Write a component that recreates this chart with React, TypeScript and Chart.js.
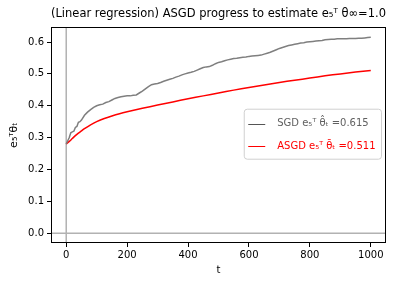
import { useEffect, useRef } from 'react';
import { Chart, registerables } from 'chart.js';

Chart.register(...registerables);

const TITLE = '(Linear regression) ASGD progress to estimate e₅ᵀ θ∞=1.0';
const X_LABEL = 't';
const Y_LABEL = 'e₅ᵀθₜ';
const SGD_LABEL = 'SGD e₅ᵀ θ̂ₜ =0.615';
const ASGD_LABEL = 'ASGD e₅ᵀ θ̄ₜ =0.511';

const X_TICKS = [0, 200, 400, 600, 800, 1000];
const Y_TICKS = [0.0, 0.1, 0.2, 0.3, 0.4, 0.5, 0.6];

const SGD_T = [
  0, 5, 10, 15, 20, 25, 30, 35, 40, 45, 50, 60, 70, 80, 90,
  100, 110, 120, 130, 140, 150, 160, 170, 180, 190,
  200, 210, 220, 230, 240, 250, 260, 270, 280, 290,
  300, 310, 320, 330, 340, 350, 360, 370, 380, 390,
  400, 410, 420, 430, 440, 450, 460, 470, 480, 490,
  500, 510, 520, 530, 540, 550, 560, 570, 580, 590,
  600, 610, 620, 630, 640, 650, 660, 670, 680, 690,
  700, 710, 720, 730, 740, 750, 760, 770, 780, 790,
  800, 810, 820, 830, 840, 850, 860, 870, 880, 890,
  900, 910, 920, 930, 940, 950, 960, 970, 980, 990,
  1000,
];
const SGD_VALUES = [
  0.280, 0.290, 0.300, 0.315, 0.318, 0.320, 0.332, 0.335, 0.348, 0.350, 0.355, 0.370, 0.380, 0.388, 0.395,
  0.400, 0.403, 0.405, 0.410, 0.413, 0.418, 0.423, 0.426, 0.428, 0.430,
  0.431, 0.431, 0.433, 0.434, 0.440, 0.446, 0.453, 0.460, 0.466, 0.468,
  0.470, 0.473, 0.477, 0.480, 0.483, 0.486, 0.490, 0.493, 0.497, 0.500,
  0.503, 0.505, 0.508, 0.512, 0.516, 0.520, 0.522, 0.523, 0.527, 0.532,
  0.536, 0.538, 0.541, 0.544, 0.546, 0.548, 0.549, 0.551, 0.552, 0.553,
  0.555, 0.556, 0.557, 0.558, 0.559, 0.562, 0.565, 0.568, 0.572, 0.576,
  0.580, 0.583, 0.586, 0.589, 0.591, 0.593, 0.595, 0.597, 0.598, 0.600,
  0.601, 0.602, 0.603, 0.604, 0.605, 0.607, 0.608, 0.609, 0.609, 0.610,
  0.610, 0.610, 0.610, 0.611, 0.611, 0.611, 0.612, 0.612, 0.613, 0.614,
  0.615,
];

const ASGD_T = [0, 10, 20, 30, 40, 50, 60, 80, 100, 125, 150, 175, 200, 250, 300, 350, 400, 450, 500, 550, 600, 650, 700, 750, 800, 850, 900, 950, 1000];
const ASGD_VALUES = [0.280, 0.288, 0.297, 0.306, 0.314, 0.321, 0.328, 0.340, 0.350, 0.360, 0.368, 0.375, 0.381, 0.392, 0.402, 0.412, 0.422, 0.431, 0.440, 0.449, 0.457, 0.465, 0.473, 0.480, 0.487, 0.494, 0.500, 0.506, 0.511];

const X_MIN = -50;
const X_MAX = 1050;
const Y_MIN = -0.031;
const Y_MAX = 0.646;

const FONT = 'DejaVu Sans';
const SGD_COLOR = '#7f7f7f';
const ASGD_COLOR = '#ff0000';
const REF_LINE_COLOR = '#b2b2b2';

const frame = {
  id: 'frame',
  beforeDatasetsDraw(chart: any) {
    const { ctx, chartArea, scales } = chart;
    const x0 = scales.x.getPixelForValue(0);
    const y0 = scales.y.getPixelForValue(0);
    ctx.save();
    ctx.strokeStyle = REF_LINE_COLOR;
    ctx.lineWidth = 1.5;
    ctx.beginPath();
    ctx.moveTo(x0, chartArea.top);
    ctx.lineTo(x0, chartArea.bottom);
    ctx.moveTo(chartArea.left, y0);
    ctx.lineTo(chartArea.right, y0);
    ctx.stroke();
    ctx.restore();
  },
  afterDraw(chart: any) {
    const { ctx, chartArea } = chart;
    ctx.save();
    ctx.strokeStyle = '#000';
    ctx.lineWidth = 1;
    ctx.strokeRect(
      Math.round(chartArea.left) + 0.5,
      Math.round(chartArea.top) + 0.5,
      Math.round(chartArea.right - chartArea.left) - 1,
      Math.round(chartArea.bottom - chartArea.top) - 1,
    );
    const items = [
      { text: SGD_LABEL, line: '#555555', color: '#606060' },
      { text: ASGD_LABEL, line: ASGD_COLOR, color: ASGD_COLOR },
    ];
    ctx.font = `10px "${FONT}"`;
    const textW = Math.max(...items.map((it) => ctx.measureText(it.text).width));
    const boxW = 4 + 17 + 12 + textW + 6;
    const boxH = 50;
    const right = chartArea.right - 4.5;
    const left = right - boxW;
    const cy = (chartArea.top + chartArea.bottom) / 2;
    const top = cy - boxH / 2 - 1;
    ctx.beginPath();
    const r = 3;
    ctx.moveTo(left + r, top);
    ctx.lineTo(right - r, top);
    ctx.arcTo(right, top, right, top + r, r);
    ctx.lineTo(right, top + boxH - r);
    ctx.arcTo(right, top + boxH, right - r, top + boxH, r);
    ctx.lineTo(left + r, top + boxH);
    ctx.arcTo(left, top + boxH, left, top + boxH - r, r);
    ctx.lineTo(left, top + r);
    ctx.arcTo(left, top, left + r, top, r);
    ctx.closePath();
    ctx.fillStyle = 'rgba(255,255,255,0.8)';
    ctx.fill();
    ctx.strokeStyle = '#d0d0d0';
    ctx.lineWidth = 1;
    ctx.stroke();
    items.forEach((it, i) => {
      const y = top + 14.5 + i * 22.4;
      ctx.strokeStyle = it.line;
      ctx.lineWidth = 1;
      ctx.beginPath();
      ctx.moveTo(left + 4, Math.round(y) + 0.5);
      ctx.lineTo(left + 21, Math.round(y) + 0.5);
      ctx.stroke();
      ctx.fillStyle = it.color;
      ctx.textBaseline = 'middle';
      ctx.textAlign = 'left';
      ctx.fillText(it.text, left + 33, y);
    });
    ctx.restore();
  },
};

export default function App() {
  const ref = useRef<HTMLCanvasElement | null>(null);
  useEffect(() => {
    document.body.style.margin = '0';
    const canvas = ref.current;
    if (!canvas) return;
    const chart = new Chart(canvas, {
      type: 'line',
      data: {
        datasets: [
          {
            label: SGD_LABEL,
            data: SGD_T.map((t, i) => ({ x: t, y: SGD_VALUES[i] })),
            borderColor: SGD_COLOR,
            borderWidth: 1.5,
            pointRadius: 0,
            tension: 0,
          },
          {
            label: ASGD_LABEL,
            data: ASGD_T.map((t, i) => ({ x: t, y: ASGD_VALUES[i] })),
            borderColor: ASGD_COLOR,
            borderWidth: 1.5,
            pointRadius: 0,
            tension: 0.3,
          },
        ],
      },
      options: {
        responsive: false,
        animation: false,
        layout: { padding: { left: 0, right: 13, top: 0, bottom: 0 } },
        plugins: {
          legend: { display: false },
          tooltip: { enabled: false },
          title: {
            display: true,
            text: TITLE,
            fullSize: false,
            color: '#000',
            font: { family: FONT, size: 12, weight: 'normal' },
            padding: { top: 7, bottom: 6 },
          },
        },
        scales: {
          x: {
            type: 'linear',
            min: X_MIN,
            max: X_MAX,
            afterBuildTicks: (s: any) => {
              s.ticks = X_TICKS.map((v) => ({ value: v }));
            },
            ticks: {
              color: '#000',
              font: { family: FONT, size: 10 },
              padding: 2,
              maxRotation: 0,
              callback: (v: any) => String(v),
            },
            grid: { drawOnChartArea: false, drawTicks: true, tickLength: 4, color: '#000', tickColor: '#000' },
            border: { display: false },
            title: {
              display: true,
              text: X_LABEL,
              color: '#000',
              font: { family: FONT, size: 10 },
              padding: { top: 1, bottom: 6 },
            },
          },
          y: {
            type: 'linear',
            min: Y_MIN,
            max: Y_MAX,
            afterBuildTicks: (s: any) => {
              s.ticks = Y_TICKS.map((v) => ({ value: v }));
            },
            afterFit: (s: any) => {
              s.width = 51;
            },
            ticks: {
              color: '#000',
              font: { family: FONT, size: 10 },
              padding: 3,
              callback: (v: any) => Number(v).toFixed(1),
            },
            grid: { drawOnChartArea: false, drawTicks: true, tickLength: 4, color: '#000', tickColor: '#000' },
            border: { display: false },
            title: {
              display: true,
              text: Y_LABEL,
              color: '#000',
              font: { family: FONT, size: 11 },
              padding: { top: 8, bottom: 0 },
            },
          },
        },
      },
      plugins: [frame],
    });
    return () => chart.destroy();
  }, []);
  return (
    <div style={{ position: 'fixed', left: 0, top: 0, width: 399, height: 282, background: '#fff' }}>
      <canvas ref={ref} width={399} height={282} style={{ width: 399, height: 282, display: 'block' }} />
    </div>
  );
}
